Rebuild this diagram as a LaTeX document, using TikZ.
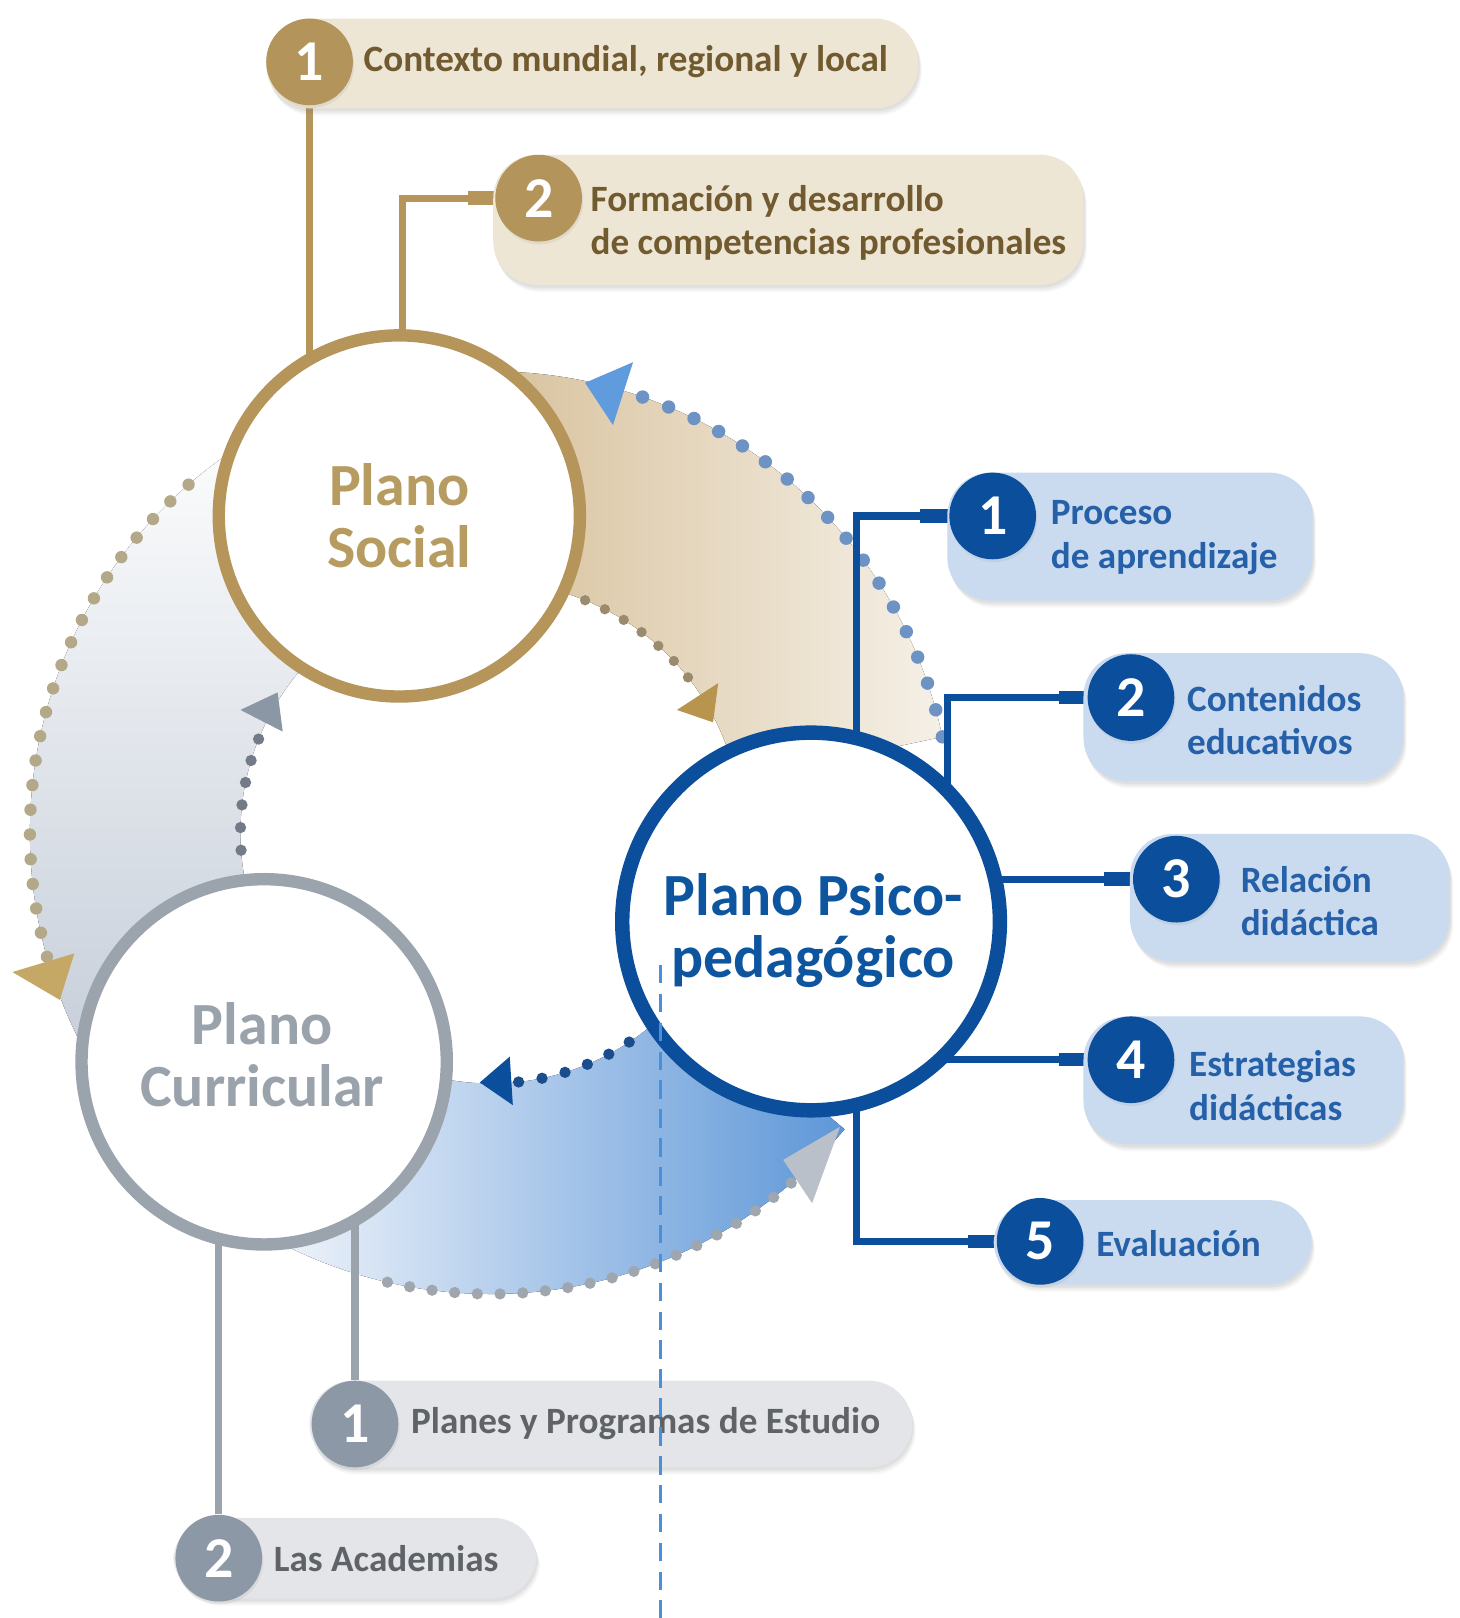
\documentclass[tikz,border=0pt]{standalone}
\usepackage{fontspec}
\setmainfont{Carlito}
\usetikzlibrary{calc,shadows}
\pgfdeclarelayer{paper}
\pgfdeclarelayer{bands}
\pgfdeclarelayer{links}
\pgfdeclarelayer{guide}
\pgfsetlayers{paper,bands,links,main,guide}
\definecolor{goldLine}{HTML}{B5955A}
\definecolor{goldNum}{HTML}{B3945A}
\definecolor{goldPill}{HTML}{EEE6D5}
\definecolor{goldText}{HTML}{715A2F}
\definecolor{socialText}{HTML}{B79C62}
\definecolor{blueLine}{HTML}{0B4E9B}
\definecolor{bluePill}{HTML}{CADBF0}
\definecolor{blueText}{HTML}{2560A8}
\definecolor{psicoText}{HTML}{0E559F}
\definecolor{grayLine}{HTML}{9BA3AD}
\definecolor{grayNum}{HTML}{8C98A5}
\definecolor{grayPill}{HTML}{E3E5E8}
\definecolor{grayText}{HTML}{5F6367}
\definecolor{curricText}{HTML}{9AA2AC}
\definecolor{tanA}{HTML}{D3BA90}
\definecolor{tanB}{HTML}{F5F0E7}
\definecolor{bandBlueA}{HTML}{F3F6FB}
\definecolor{bandBlueB}{HTML}{5E97D8}
\definecolor{bandGrayA}{HTML}{FAFBFC}
\definecolor{bandGrayB}{HTML}{C6CED9}
\definecolor{dotBlue}{HTML}{6D93C5}
\definecolor{arrBlue}{HTML}{5F9BDD}
\definecolor{dotGoldIn}{HTML}{9A8A6E}
\definecolor{arrGold}{HTML}{B8954F}
\definecolor{dotGoldOut}{HTML}{B3A888}
\definecolor{arrGoldOut}{HTML}{C6A866}
\definecolor{dotGrayIn}{HTML}{727B87}
\definecolor{arrGray}{HTML}{8C97A6}
\definecolor{dotGrayOut}{HTML}{A0A6AE}
\definecolor{arrGrayOut}{HTML}{B9C0CA}
\definecolor{dotNavy}{HTML}{1B4D8E}
\definecolor{arrNavy}{HTML}{0B4F9C}
\definecolor{guideBlue}{HTML}{4A8FDA}
\begin{document}
\begin{tikzpicture}[x=0.5pt,y=-0.5pt,
  softshadow/.style={
    drop shadow={shadow xshift=1.6pt, shadow yshift=-3.4pt, opacity=0.07},
    drop shadow={shadow xshift=1.1pt, shadow yshift=-2.4pt, opacity=0.09},
    drop shadow={shadow xshift=0.6pt, shadow yshift=-1.4pt, opacity=0.11}},
  plane/.style={circle, fill=white, inner sep=0pt},
  planelabel/.style={align=center, inner sep=0pt, font=\bfseries\fontsize{29}{30}\selectfont},
  pill/.style={rectangle, rounded corners=21pt, inner sep=0pt, softshadow},
  numc/.style={circle, minimum size=42pt, inner sep=0pt, text=white,
    font=\bfseries\fontsize{28}{28}\selectfont,
    drop shadow={shadow xshift=0.6pt, shadow yshift=-1.4pt, opacity=0.12}},
  lbl/.style={anchor=west, align=left, inner sep=0pt, font=\bfseries\fontsize{18}{21}\selectfont},
  dotline/.style={line cap=round, dash pattern=on 0pt off #1},
  dotline/.default=11.5pt,
  link/.style={line width=3.5pt},
  tab/.style={line width=6.5pt}
]
\begin{pgfonlayer}{paper}
\fill[white] (0,0) rectangle (1414,1568);
\end{pgfonlayer}
\useasboundingbox (0,0) rectangle (1414,1568);
\coordinate (C) at (476,807);

% ---------- main circles ----------
\node[plane, draw=goldLine, line width=6pt, minimum size=175pt] (social) at (387,500) {};
\node[planelabel, text=socialText] (socialT) at (387,500) {Plano\\Social};
\node[plane, draw=blueLine, line width=7pt, minimum size=183pt] (psico) at (786,893) {};
\node[planelabel, text=psicoText] (psicoT) at (788,902) {Plano Psico-\\pedagógico};
\node[plane, draw=grayLine, line width=6pt, minimum size=177pt] (curric) at (256,1029) {};
\node[planelabel, text=curricText] (curricT) at (254,1022) {Plano\\Curricular};

% ---------- top items ----------
\node[pill, fill=goldPill, minimum width=316pt, minimum height=43.5pt] (tb1) at (574,61.5) {};
\node[numc, fill=goldNum] (t1) at (300,60) {1};
\node[lbl, text=goldText] (tt1) at (352,60) {Contexto mundial, regional y local};
\node[pill, fill=goldPill, minimum width=286pt, minimum height=63pt] (tb2) at (764,213) {};
\node[numc, fill=goldNum] (t2) at (522,192) {2};
\node[lbl, text=goldText] (tt2) at (572,216) {Formación y desarrollo\\de competencias profesionales};

% ---------- right items ----------
\node[pill, fill=bluePill, minimum width=177pt, minimum height=62pt] (pb1) at (1095,520) {};
\node[numc, fill=blueLine] (p1) at (962,500) {1};
\node[lbl, text=blueText] (pt1) at (1018,521) {Proceso\\de aprendizaje};
\node[pill, fill=bluePill, minimum width=155pt, minimum height=62pt] (pb2) at (1205,695) {};
\node[numc, fill=blueLine] (p2) at (1096,676) {2};
\node[lbl, text=blueText] (pt2) at (1150,698) {Contenidos\\educativos};
\node[pill, fill=bluePill, minimum width=155pt, minimum height=62pt] (pb3) at (1250,870) {};
\node[numc, fill=blueLine] (p3) at (1140,852) {3};
\node[lbl, text=blueText] (pt3) at (1202,873) {Relación\\didáctica};
\node[pill, fill=bluePill, minimum width=155pt, minimum height=62pt] (pb4) at (1205,1047) {};
\node[numc, fill=blueLine] (p4) at (1096,1027) {4};
\node[lbl, text=blueText] (pt4) at (1152,1052) {Estrategias\\didácticas};
\node[pill, fill=bluePill, minimum width=154pt, minimum height=41pt] (pb5) at (1117,1204) {};
\node[numc, fill=blueLine] (p5) at (1008,1203) {5};
\node[lbl, text=blueText] (pt5) at (1062,1205) {Evaluación};

% ---------- bottom items ----------
\node[pill, fill=grayPill, minimum width=292pt, minimum height=42pt] (gb1) at (592,1380) {};
\node[numc, fill=grayNum] (g1) at (344,1380) {1};
\node[lbl, text=grayText] (gt1) at (398,1380) {Planes y Programas de Estudio};
\node[pill, fill=grayPill, minimum width=176pt, minimum height=39pt] (gb2) at (344,1510) {};
\node[numc, fill=grayNum] (g2) at (212,1510) {2};
\node[lbl, text=grayText] (gt2) at (265,1510) {Las Academias};

% ---------- connectors ----------
\begin{pgfonlayer}{links}
\draw[link, goldLine] (t1) -- (t1 |- social);
\draw[link, goldLine] (t2) -| ([xshift=1.5pt]social.center);
\draw[tab, goldLine] (t2) -- ++(-68,0);
\draw[link, blueLine] (p1) -| ([xshift=22pt]psico.center);
\draw[link, blueLine] (p2) -| ([xshift=66pt]psico.center);
\draw[link, blueLine] (p3) -- (p3 -| psico);
\draw[link, blueLine] (p4) -- (p4 -| psico);
\draw[link, blueLine] (p5) -| ([xshift=22pt]psico.center);
\foreach \n in {p1,p2,p3,p4,p5} \draw[tab, blueLine] (\n) -- ++(-70,0);
\draw[link, grayLine] (g1) -- (g1 |- curric);
\draw[link, grayLine] (g2) -- (g2 |- curric);
\end{pgfonlayer}

% ---------- cycle bands ----------
\begin{pgfonlayer}{bands}
\fill[left color=tanA, right color=tanB]
  ($(C)+(-100:447)$) arc[start angle=-100, end angle=-12, radius=447]
  -- ($(C)+(-12:243)$) arc[start angle=-12, end angle=-100, radius=243] -- cycle;
\fill[left color=bandBlueA, right color=bandBlueB]
  ($(C)+(40:447)$) arc[start angle=40, end angle=120, radius=447]
  -- ($(C)+(120:243)$) arc[start angle=120, end angle=40, radius=243] -- cycle;
\fill[top color=bandGrayA, bottom color=bandGrayB]
  ($(C)+(150:447)$) arc[start angle=150, end angle=235, radius=447]
  -- ($(C)+(235:243)$) arc[start angle=235, end angle=150, radius=243] -- cycle;
% dotted edges
\draw[dotline=13.5pt, line width=6.5pt, dotBlue] ($(C)+(-12:447)$) arc[start angle=-12, end angle=-73.3, radius=447];
\draw[dotline=10.5pt, line width=5pt, dotGoldIn] ($(C)+(-68:243)$) arc[start angle=-68, end angle=-33.4, radius=243];
\draw[dotline=12pt, line width=6pt, dotGoldOut] ($(C)+(229:447)$) arc[start angle=229, end angle=161.3, radius=447];
\draw[dotline=11pt, line width=5.5pt, dotGrayIn] ($(C)+(176:243)$) arc[start angle=176, end angle=206, radius=243];
\draw[dotline=11pt, line width=5.5pt, dotGrayOut] ($(C)+(103:447)$) arc[start angle=103, end angle=48.7, radius=447];
\draw[dotline=11.5pt, line width=5.5pt, dotNavy] ($(C)+(56.6:243)$) arc[start angle=56.6, end angle=85.4, radius=243];
% arrowheads
\fill[arrBlue] (567,371) -- (613.5,351) -- (594,412) -- cycle;
\fill[arrGold] (656,688) -- (696,662) -- (691,700) -- cycle;
\fill[arrGoldOut] (12,942) -- (72,924) -- (58,969) -- cycle;
\fill[arrGray] (233,688) -- (269,671) -- (274,709) -- cycle;
\fill[arrGrayOut] (759,1124) -- (814,1092) -- (787,1166) -- cycle;
\fill[arrNavy] (465,1049) -- (494,1024) -- (497,1071) -- cycle;
\end{pgfonlayer}

% ---------- guide line ----------
\begin{pgfonlayer}{guide}
\coordinate (gA) at (640,935);
\coordinate (gB) at (640,1568);
\draw[guideBlue, line width=1.6pt, dash pattern=on 9pt off 5pt] (gA) -- (gB);
\end{pgfonlayer}
\end{tikzpicture}
\end{document}
